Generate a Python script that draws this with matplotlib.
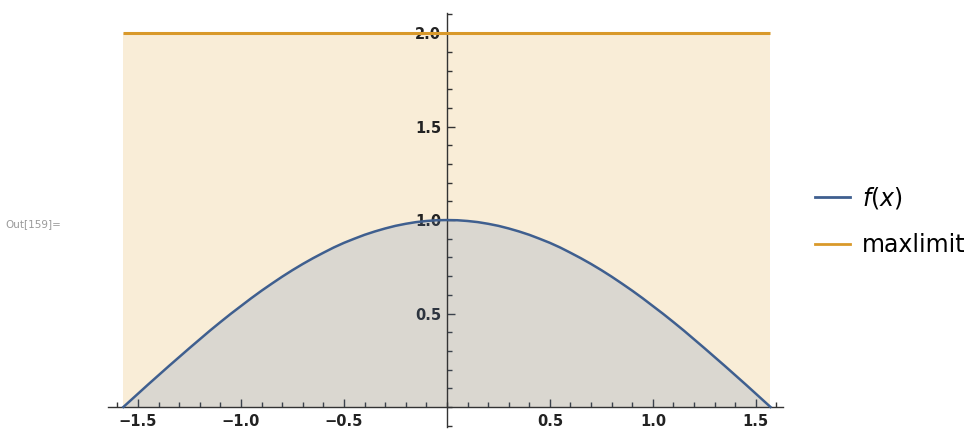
import numpy as np
import matplotlib
matplotlib.use("Agg")
import matplotlib.pyplot as plt
from matplotlib.ticker import MultipleLocator, FixedLocator
from matplotlib.lines import Line2D

# sampled curve f(x) on [-pi/2, pi/2], step 0.05 (symmetric about 0)
half_x = [0.0, 0.05, 0.10, 0.15, 0.20, 0.25, 0.30, 0.35, 0.40, 0.45, 0.50,
          0.55, 0.60, 0.65, 0.70, 0.75, 0.80, 0.85, 0.90, 0.95, 1.00, 1.05,
          1.10, 1.15, 1.20, 1.25, 1.30, 1.35, 1.40, 1.45, 1.50, 1.55, 1.571]
half_f = [1.000, 0.999, 0.995, 0.989, 0.980, 0.969, 0.955, 0.939, 0.921,
          0.900, 0.878, 0.853, 0.825, 0.796, 0.765, 0.732, 0.697, 0.660,
          0.622, 0.582, 0.540, 0.498, 0.454, 0.409, 0.362, 0.315, 0.267,
          0.219, 0.170, 0.121, 0.071, 0.021, 0.000]
maxlimit = 2.0

blue = "#3f5f8f"
orange = "#d9992a"

plt.rcParams["mathtext.fontset"] = "dejavusans"

fig = plt.figure(figsize=(9.68, 4.33), dpi=100)
ax = fig.add_axes([0.1115, 0.0083, 0.7004, 0.967])
ax.set_xlim(-1.646, 1.646)
ax.set_ylim(-0.12, 2.12)
ax.patch.set_alpha(0)

x = np.concatenate([-np.array(half_x[:0:-1]), half_x])
y = np.concatenate([np.array(half_f[:0:-1]), half_f])
lim = np.full_like(x, maxlimit)

ax.fill_between(x, 0, lim, color="#e19c24", alpha=0.18, lw=0, zorder=1)
ax.fill_between(x, 0, y, color="#5e81b5", alpha=0.2, lw=0, zorder=2)
ax.plot(x, lim, color=orange, lw=2.2, zorder=4, solid_capstyle="butt")
ax.plot(x, y, color=blue, lw=1.8, zorder=4)

# axes through the origin
for s in ("top", "right"):
    ax.spines[s].set_visible(False)
ax.spines["left"].set_position(("data", 0))
ax.spines["bottom"].set_position(("data", 0))
ax.spines["left"].set_bounds(-0.107, 2.107)
ax.spines["bottom"].set_bounds(-1.646, 1.63)
for s in ("left", "bottom"):
    ax.spines[s].set_color("#333333")
    ax.spines[s].set_linewidth(1.0)
    ax.spines[s].set_zorder(3)

ax.xaxis.set_major_locator(FixedLocator([-1.5, -1.0, -0.5, 0.5, 1.0, 1.5]))
ax.xaxis.set_minor_locator(MultipleLocator(0.1))
ax.yaxis.set_major_locator(FixedLocator([0.5, 1.0, 1.5, 2.0]))
ax.yaxis.set_minor_locator(FixedLocator(np.round(np.arange(-0.1, 2.11, 0.1), 2)))
ax.xaxis.set_major_formatter(lambda v, p: f"{v:.1f}".replace("-", "\u2212"))
ax.yaxis.set_major_formatter(lambda v, p: f"{v:.1f}")

ax.tick_params(which="both", direction="in", color="#333333", width=1.0)
ax.tick_params(which="major", length=6, labelsize=10.5, labelcolor="#222222")
ax.tick_params(which="minor", length=3.5)
ax.tick_params(axis="x", pad=5)
ax.tick_params(axis="y", pad=4)
for lab in ax.get_xticklabels() + ax.get_yticklabels():
    lab.set_fontweight("semibold")

handles = [Line2D([], [], color=blue, lw=2),
           Line2D([], [], color=orange, lw=2)]
fig.legend(handles, [r"$f(x)$", "maxlimit"], loc="center left",
           bbox_to_anchor=(0.842, 0.49), frameon=False, fontsize=17,
           handlelength=1.5, handletextpad=0.5, labelspacing=0.95,
           borderpad=0, borderaxespad=0)

fig.text(0.006, 0.482, "Out[159]=", fontsize=7.5, color="#9a9a9a", va="center")

fig.savefig("out.png", dpi=100)
